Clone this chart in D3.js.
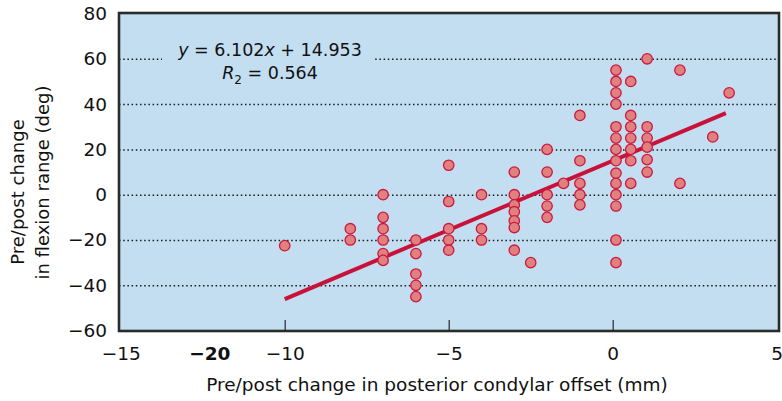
<!DOCTYPE html>
<meta charset="utf-8">
<style>
body { margin: 0; background: #fff; }
svg { display: block; }
svg text { font-family: "DejaVu Sans", sans-serif; }
.grid line { stroke: #1a1a1a; stroke-width: 1.5; stroke-dasharray: 1.5,2.7; }
.grid path { display: none; }
.ylab text, .xlab text { font-size: 18.5px; fill: #111; }
.ylab path, .ylab line, .xlab path, .xlab line { display: none; }
.xtick path { display: none; }
.xtick line { stroke: #333; stroke-width: 1.3; }
.dot { fill: #e0807f; stroke: #cc1840; stroke-width: 1.3; }
</style>
<svg width="782" height="401"></svg>
<script src="https://d3js.org/d3.v7.min.js"></script>
<script>
// column x positions (mm) and the y values (deg) stacked at each
var colX = [-10, -8, -7, -6, -5, -4, -3, -2.5, -2, -1.5, -1, 0.1, 0.55, 1.05, 2.05, 3.05, 3.55];
var colY = [
  [-22.5],
  [-15, -20],
  [0, -10, -15, -20, -26, -29],
  [-20, -26, -35, -40, -45],
  [13, -3, -15, -20, -24.5],
  [0, -15, -20],
  [10, 0, -4.5, -7.5, -11.5, -14.5, -24.5],
  [-30],
  [20, 10, 0, -5, -10],
  [5],
  [35, 15, 5, 0, -4.5],
  [55, 50, 45, 40, 30, 25, 20, 15, 9.5, 5, 0, -5, -20, -30],
  [50, 35, 30, 25, 20, 15, 5],
  [60, 30, 25, 21, 15.5, 10],
  [55, 5],
  [25.5],
  [45]
];
// regression line
var slope = 6.102, intercept = 14.953, r2 = "0.564";
var lineFrom = -10, lineTo = 3.45;

// axis ticks
var yTicks = [80, 60, 40, 20, 0, -20, -40, -60];
var gridTicks = [60, 40, 20, 0, -20, -40];
var xTickVals = [-15, -12.3, -10, -5, 0, 5];
var xTickLabels = ["\u221215", "\u221220", "\u221210", "\u22125", "0", "5"];
var xInnerTicks = [-10, -5, 0];

var svg = d3.select("svg");
var L = 119, R = 779, T = 13, B = 331;

var x = d3.scaleLinear().domain([-15, 5]).range([120.7, 776.7]);
var y = d3.scaleLinear().domain([-60, 80]).range([330.6, 13.5]);

// plot background
svg.append("rect")
    .attr("x", L).attr("y", T)
    .attr("width", R - L).attr("height", B - T)
    .attr("fill", "#c3def0");

// dotted grid
svg.append("g")
    .attr("class", "grid")
    .attr("transform", "translate(" + L + ",0)")
    .call(d3.axisLeft(y).tickValues(gridTicks).tickSize(-(R - L)).tickFormat(""));

// equation box hides the grid under the text
svg.append("rect")
    .attr("x", 162).attr("y", 36).attr("width", 213).attr("height", 50)
    .attr("fill", "#c3def0");

var eq = svg.append("text")
    .attr("x", 270).attr("y", 56)
    .attr("text-anchor", "middle")
    .attr("font-size", 17.5)
    .attr("fill", "#111");
eq.append("tspan").attr("font-style", "italic").text("y");
eq.append("tspan").text(" = " + slope + "");
eq.append("tspan").attr("font-style", "italic").text("x");
eq.append("tspan").text(" + " + intercept);

var eq2 = svg.append("text")
    .attr("x", 270).attr("y", 79)
    .attr("text-anchor", "middle")
    .attr("font-size", 17.5)
    .attr("fill", "#111");
eq2.append("tspan").attr("font-style", "italic").text("R");
eq2.append("tspan").attr("font-size", 12).attr("dy", 5).text("2");
eq2.append("tspan").attr("dy", -5).text(" = " + r2);

// inner ticks on bottom
svg.append("g")
    .attr("class", "xtick")
    .attr("transform", "translate(0," + B + ")")
    .call(d3.axisBottom(x).tickValues(xInnerTicks).tickSize(-11).tickFormat(""));

// regression line
svg.append("line")
    .attr("x1", x(lineFrom)).attr("y1", y(slope * lineFrom + intercept))
    .attr("x2", x(lineTo)).attr("y2", y(slope * lineTo + intercept))
    .attr("stroke", "#c8123a").attr("stroke-width", 4);

// points
var pts = [];
colX.forEach(function(cx, i) {
  colY[i].forEach(function(v) { pts.push({x: cx, y: v}); });
});
svg.append("g").selectAll("circle")
    .data(pts)
    .enter()
    .append("circle")
      .attr("class", "dot")
      .attr("cx", d => x(d.x))
      .attr("cy", d => y(d.y))
      .attr("r", 5.2);

// frame
svg.append("rect")
    .attr("x", L).attr("y", T)
    .attr("width", R - L).attr("height", B - T)
    .attr("fill", "none")
    .attr("stroke", "#2b2b2b")
    .attr("stroke-width", 2.6);

// y tick labels
svg.append("g")
    .attr("class", "ylab")
    .attr("transform", "translate(" + (L - 4) + ",0)")
    .call(d3.axisLeft(y).tickValues(yTicks).tickSize(0).tickPadding(8)
      .tickFormat(d => d < 0 ? "\u2212" + Math.abs(d) : d));

// x tick labels
var xl = svg.append("g")
    .attr("class", "xlab")
    .attr("transform", "translate(0," + B + ")")
    .call(d3.axisBottom(x).tickValues(xTickVals).tickSize(0).tickPadding(16)
      .tickFormat((d, i) => xTickLabels[i]));
xl.selectAll("text").attr("font-weight", (d, i) => xTickLabels[i] == "\u221220" ? "bold" : null);

// axis titles
svg.append("text")
    .attr("x", 437).attr("y", 391)
    .attr("text-anchor", "middle")
    .attr("font-size", 18.5)
    .attr("fill", "#111")
    .text("Pre/post change in posterior condylar offset (mm)");

svg.append("text")
    .attr("transform", "translate(24,192) rotate(-90)")
    .attr("text-anchor", "middle")
    .attr("font-size", 18)
    .attr("fill", "#111")
    .text("Pre/post change");
svg.append("text")
    .attr("transform", "translate(48.5,182.5) rotate(-90)")
    .attr("text-anchor", "middle")
    .attr("font-size", 18)
    .attr("fill", "#111")
    .text("in flexion range (deg)");
</script>
